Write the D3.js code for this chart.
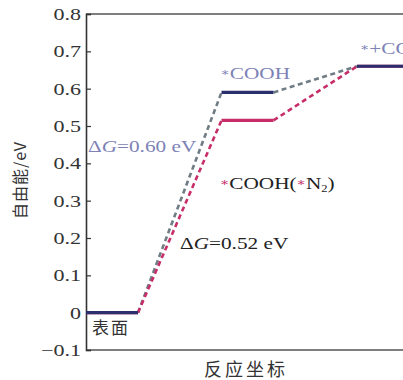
<!DOCTYPE html>
<html>
<head>
<meta charset="utf-8">
<script src="https://cdn.jsdelivr.net/npm/d3@7"></script>
<style>
  body { margin: 0; background: #fff; }
  svg { display: block; }
</style>
</head>
<body>
<div id="chart"></div>
<script>
// reaction steps and free energies (eV)
const steps = ["表面", "*COOH", "*+COO"];
const energyCOOH = [0, 0.59, 0.66];     // *COOH path
const energyN2 = [0, 0.515, 0.66];      // *COOH(*N2) path
const yTicks = [-0.1, 0, 0.1, 0.2, 0.3, 0.4, 0.5, 0.6, 0.7, 0.8];

const width = 403, height = 380;
const margin = {top: 14, right: 0, bottom: 30, left: 86};

const serif = "'Liberation Serif', 'DejaVu Serif', serif";
const cjk = "'Noto Sans CJK SC', sans-serif";
const navy = "#2c2f6e", pink = "#c72e69", grey = "#6f7c84", slate = "#7d82b6";

const svg = d3.select("#chart")
  .append("svg")
    .attr("width", width)
    .attr("height", height);

const y = d3.scaleLinear()
  .domain([-0.1, 0.8])
  .range([height - margin.bottom, margin.top]);

// each step occupies 135.5px, bar takes the first 52px
const x = d3.scaleLinear()
  .domain([0, 3])
  .range([margin.left, margin.left + 3 * 135.5]);
const barW = 52;

// frame: top border and bottom axis
svg.append("line")
  .attr("x1", margin.left).attr("x2", width)
  .attr("y1", y(0.8)).attr("y2", y(0.8))
  .attr("stroke", "#555").attr("stroke-width", 1.6);
svg.append("line")
  .attr("x1", margin.left).attr("x2", width)
  .attr("y1", y(-0.1)).attr("y2", y(-0.1))
  .attr("stroke", "#555").attr("stroke-width", 1.6);

// y axis, ticks pointing inward
const yAxis = svg.append("g")
  .attr("transform", `translate(${margin.left},0)`)
  .call(d3.axisRight(y).tickValues(yTicks).tickSize(5).tickFormat(() => ""));
yAxis.select(".domain").attr("stroke", "#333").attr("stroke-width", 1.6);
yAxis.selectAll(".tick line").attr("stroke", "#333").attr("stroke-width", 1.2);

svg.append("g")
  .selectAll("text")
  .data(yTicks)
  .join("text")
    .attr("transform", d => `translate(${margin.left - 5},${y(d) + 6}) scale(1.3,1)`)
    .attr("text-anchor", "end")
    .attr("font-family", serif)
    .attr("font-size", 17)
    .attr("fill", "#333")
    .text(d => d === 0 ? "0" : d3.format(".1f")(d));

// dashed connectors between steps
function connectors(vals, color) {
  const segs = [];
  for (let i = 0; i < vals.length - 1; i++) {
    segs.push([x(i) + barW, y(vals[i]), x(i + 1), y(vals[i + 1])]);
  }
  svg.append("g")
    .selectAll("line")
    .data(segs)
    .join("line")
      .attr("x1", d => d[0]).attr("y1", d => d[1])
      .attr("x2", d => d[2]).attr("y2", d => d[3])
      .attr("stroke", color)
      .attr("stroke-width", 2.6)
      .attr("stroke-dasharray", "5,3.5");
}
connectors(energyCOOH, grey);
connectors(energyN2, pink);

// energy level bars
function levels(vals, color) {
  svg.append("g")
    .selectAll("line")
    .data(vals)
    .join("line")
      .attr("x1", (d, i) => x(i))
      .attr("x2", (d, i) => x(i) + barW)
      .attr("y1", d => y(d)).attr("y2", d => y(d))
      .attr("stroke", color)
      .attr("stroke-width", 3.2);
}
levels(energyN2, pink);
levels(energyCOOH, navy);

// labels
function label(px, py, parts, size, anchor) {
  const t = svg.append("text")
    .attr("transform", `translate(${px},${py}) scale(1.25,1)`)
    .attr("font-family", serif)
    .attr("font-size", size)
    .attr("text-anchor", anchor || "start");
  parts.forEach(p => {
    const s = t.append("tspan").attr("fill", p.c).text(p.t);
    if (p.i) s.attr("font-style", "italic");
    if (p.dy) s.attr("dy", p.dy);
    if (p.fs) s.attr("font-size", p.fs);
  });
  return t;
}

label(x(1) - 1, 79, [{t: "∗", c: slate, fs: 11, dy: -3}, {t: "COOH", c: slate, dy: 3}], 17);
label(x(2) + 3, 54, [{t: "∗", c: slate, fs: 11, dy: -3}, {t: "+COO", c: slate, dy: 3}], 17);
label(88, 152, [{t: "Δ", c: slate}, {t: "G", c: slate, i: true}, {t: "=0.60 eV", c: slate}], 17);
label(220, 189, [
  {t: "∗", c: pink, fs: 11, dy: -3}, {t: "COOH(", c: "#222", dy: 3},
  {t: "∗", c: pink, fs: 11, dy: -3}, {t: "N", c: "#222", dy: 3},
  {t: "2", c: "#222", fs: 10, dy: 3}, {t: ")", c: "#222", dy: -3}
], 17);
label(180, 249, [{t: "Δ", c: "#222"}, {t: "G", c: "#222", i: true}, {t: "=0.52 eV", c: "#222"}], 17);

// step label under the surface bar
svg.append("text")
  .attr("x", 92).attr("y", 334)
  .attr("font-family", cjk)
  .attr("font-size", 17)
  .attr("letter-spacing", 2)
  .attr("fill", "#333")
  .text(steps[0]);

// axis titles
svg.append("text")
  .attr("x", 246).attr("y", 376)
  .attr("text-anchor", "middle")
  .attr("font-family", cjk)
  .attr("font-size", 18)
  .attr("letter-spacing", 3)
  .attr("fill", "#333")
  .text("反应坐标");

svg.append("text")
  .attr("transform", "translate(26,180) rotate(-90)")
  .attr("text-anchor", "middle")
  .attr("font-family", cjk)
  .attr("font-size", 16)
  .attr("letter-spacing", 1)
  .attr("fill", "#333")
  .text("自由能/eV");
</script>
</body>
</html>
